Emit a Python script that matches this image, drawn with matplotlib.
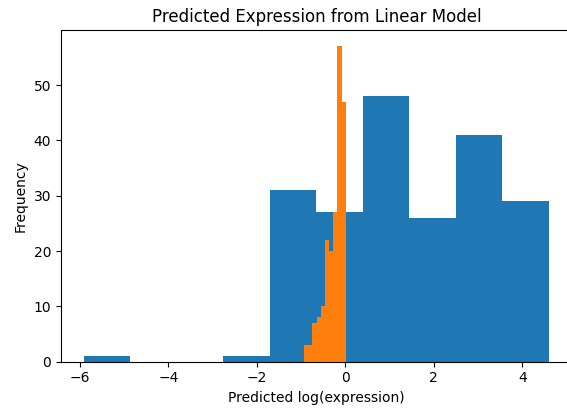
import numpy as np
import matplotlib.pyplot as plt

# blue: actual log(expression), orange: linear model prediction
actual_range = (-5.906, 4.603)
actual_counts = [1, 0, 0, 1, 31, 27, 48, 26, 41, 29]
pred_range = (-0.934, 0.012)
pred_counts = [3, 3, 7, 8, 10, 22, 20, 27, 57, 47]


def draw_hist(ax, rng, counts):
    edges = np.linspace(rng[0], rng[1], len(counts) + 1)
    centers = (edges[:-1] + edges[1:]) / 2
    ax.hist(centers, bins=edges, weights=counts)


fig = plt.figure(figsize=(5.67, 4.11), dpi=100)
ax = fig.add_axes([0.1071, 0.120, 0.9021, 0.8058])
draw_hist(ax, actual_range, actual_counts)
draw_hist(ax, pred_range, pred_counts)
ax.set_title('Predicted Expression from Linear Model', fontsize=12)
ax.set_xlabel('Predicted log(expression)')
ax.set_ylabel('Frequency')
fig.savefig('out.png', dpi=100)
